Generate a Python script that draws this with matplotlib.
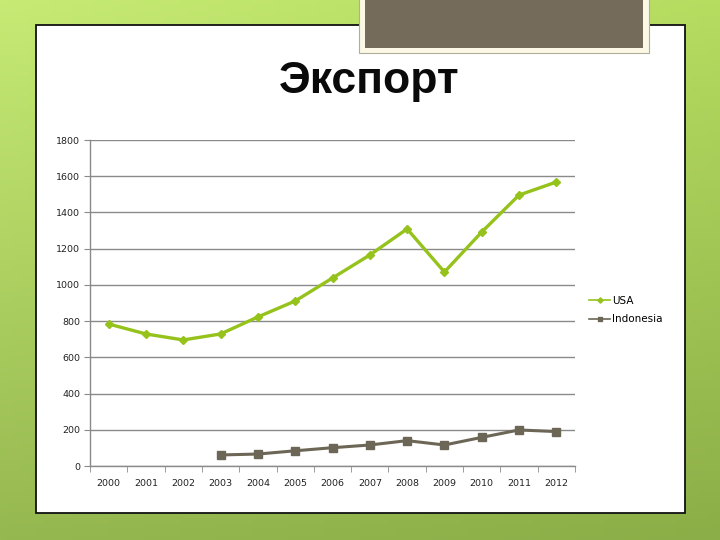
import numpy as np
import matplotlib
matplotlib.use("Agg")
import matplotlib.pyplot as plt
from matplotlib.patches import Rectangle

years = ['2000', '2001', '2002', '2003', '2004', '2005', '2006',
         '2007', '2008', '2009', '2010', '2011', '2012']
usa = [784, 729, 696, 729, 823, 911, 1038, 1165, 1309, 1071, 1292, 1496, 1568]
indonesia = [None, None, None, 61, 66, 84, 101, 116, 140, 116, 158, 199, 190]
series_names = ['USA', 'Indonesia']
title = 'Экспорт'
yticks = [0, 200, 400, 600, 800, 1000, 1200, 1400, 1600, 1800]

W, H = 720, 540
fig = plt.figure(figsize=(W / 100, H / 100), dpi=100)

# background gradient
bg = fig.add_axes([0, 0, 1, 1])
tl = np.array([0xc6, 0xea, 0x74]) / 255
tr = np.array([0xb6, 0xdc, 0x60]) / 255
bl = np.array([0x96, 0xb8, 0x50]) / 255
br = np.array([0x8c, 0xae, 0x48]) / 255
ny, nx = 100, 100
u = np.linspace(0, 1, nx)[None, :, None]
v = np.linspace(0, 1, ny)[:, None, None]
img = (1 - v) * ((1 - u) * tl + u * tr) + v * ((1 - u) * bl + u * br)
bg.imshow(img, aspect='auto', extent=[0, 1, 0, 1], origin='upper')
bg.set_xlim(0, 1)
bg.set_ylim(0, 1)
bg.axis('off')

def fx(px):
    return px / W

def fy(py):
    return 1 - py / H

# white panel
bg.add_patch(Rectangle((fx(36), fy(513)), fx(685) - fx(36), fy(25) - fy(513),
                       facecolor='white', edgecolor='#111111', lw=1.3, zorder=2))
# top dark box with cream frame
bg.add_patch(Rectangle((fx(359), fy(53)), fx(649) - fx(359), fy(-5) - fy(53),
                       facecolor='#fbf9e6', edgecolor='#b0ad9a', lw=0.8, zorder=3))
bg.add_patch(Rectangle((fx(365), fy(48)), fx(643) - fx(365), fy(-5) - fy(48),
                       facecolor='#746b5b', edgecolor='none', zorder=4))

fig.text(fx(369), fy(82), title, ha='center', va='center',
         fontsize=32, fontweight='bold', family='Liberation Sans', color='#0a0a0a')

ax = fig.add_axes([fx(90), fy(466), fx(575) - fx(90), fy(140) - fy(466)])
ax.patch.set_alpha(0)
x = np.arange(len(years))
ind = np.array([np.nan if v is None else v for v in indonesia], dtype=float)

ax.plot(x, usa, color='#96c21c', lw=2.4, marker='D', markersize=4.5,
        markerfacecolor='#96c21c', markeredgecolor='#96c21c', label=series_names[0], zorder=3)
ax.plot(x, ind, color='#6c6656', lw=2.2, marker='s', markersize=6,
        markerfacecolor='#6c6656', markeredgecolor='#6c6656', label=series_names[1], zorder=3)

ax.set_xlim(-0.5, len(years) - 0.5)
ax.set_ylim(0, 1800)
ax.set_yticks(yticks)
ax.set_yticklabels([str(t) for t in yticks])
ax.yaxis.grid(True, color='#8a8a8a', lw=1.0)
ax.set_axisbelow(True)
ax.set_xticks(x)
ax.set_xticklabels(years)
ax.set_xticks(np.arange(-0.5, len(years)), minor=True)
ax.tick_params(axis='x', which='major', length=0, pad=9, labelsize=6.8, colors='#222222')
ax.tick_params(axis='x', which='minor', length=4, color='#8a8a8a', direction='out')
ax.tick_params(axis='y', length=4, color='#8a8a8a', labelsize=6.8, pad=3, colors='#222222')
for s in ['top', 'right']:
    ax.spines[s].set_visible(False)
for s in ['left', 'bottom']:
    ax.spines[s].set_color('#8a8a8a')
    ax.spines[s].set_linewidth(1.0)

leg = fig.legend(handles=ax.get_lines(), labels=series_names, loc='center left',
                 bbox_to_anchor=(fx(580), fy(310)), frameon=False, fontsize=7.5,
                 handlelength=2.0, handletextpad=0.2, labelspacing=0.8, markerscale=0.6)
for line in leg.get_lines():
    line.set_linewidth(1.2)

fig.savefig('out.png', dpi=100)
